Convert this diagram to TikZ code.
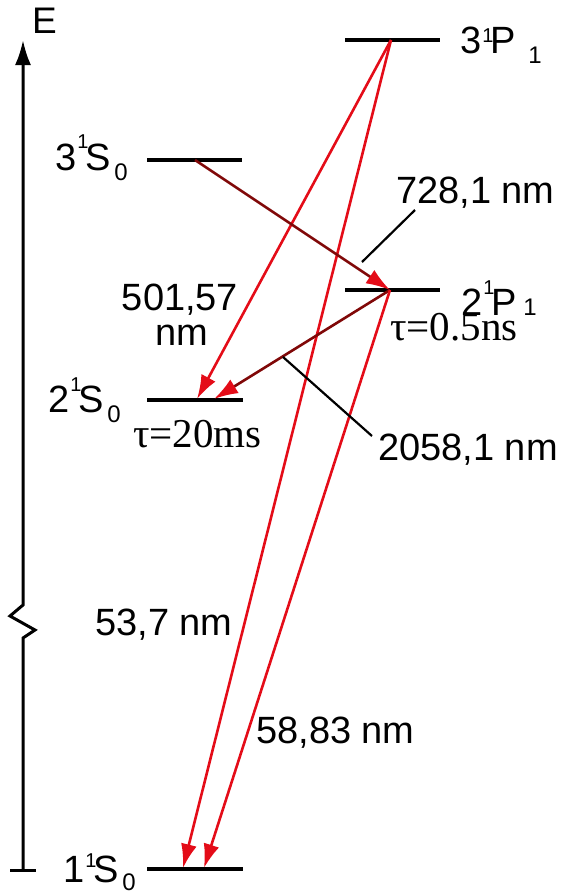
\documentclass[tikz,border=0pt]{standalone}
\usepackage{fontspec}
\setmainfont{Liberation Sans}
\newfontfamily\timesf{Liberation Serif}
\usetikzlibrary{arrows.meta}
\definecolor{myred}{RGB}{228,12,24}
\definecolor{mydark}{RGB}{128,8,8}
% #1 main digit, #2 letter, #3 subscript, #4 sup raise, #5 sub lower, #6 kern before sub
\newcommand{\lvlterm}[6]{#1\kern1pt\raisebox{#4pt}{\fontsize{20}{20}\selectfont 1}\kern-2.5pt#2\kern#6pt\raisebox{-#5pt}{\fontsize{24}{24}\selectfont #3}}
\tikzset{
  lvline/.style={line width=3.2pt},
  trans/.style={line width=2.6pt, myred, -{Latex[length=24pt,width=16pt,color=myred]}},
  transdk/.style={trans, mydark},
  lbl/.style={anchor=base west, inner sep=0pt, font=\fontsize{38}{40}\selectfont},
  lvlbl/.style={anchor=base west, inner sep=0pt, font=\fontsize{38}{40}\selectfont},
  tlbl/.style={anchor=base west, inner sep=0pt, font=\timesf\fontsize{41}{44}\selectfont},
  leader/.style={line width=2.2pt},
  axis/.style={line width=3pt}
}
\begin{document}
\begin{tikzpicture}[x=1pt,y=-1pt]
\useasboundingbox (0,0) rectangle (562,895);
% axis
\coordinate (axb) at (23,870);
\coordinate (axt) at (23,40);
\coordinate (tl) at (10,870);
\coordinate (tr) at (36,870);
\draw[axis, -{Latex[length=25pt,width=16pt]}] (axb) -- (23,638) -- (35,630) -- (10,616) -- (23,605) -- (axt);
\draw[axis] (tl) -- (tr);
\node[lbl, font=\fontsize{37}{40}\selectfont] (E) at (32,33) {E};
% levels
\coordinate (p3l) at (345,40);  \coordinate (p3r) at (440,40);
\coordinate (s3l) at (147,160); \coordinate (s3r) at (242,160);
\coordinate (p2l) at (345,290); \coordinate (p2r) at (440,290);
\coordinate (s2l) at (147,400); \coordinate (s2r) at (243,400);
\coordinate (s1l) at (147,869); \coordinate (s1r) at (243,869);
\draw[lvline] (p3l) -- (p3r);
\draw[lvline] (s3l) -- (s3r);
\draw[lvline] (p2l) -- (p2r);
\draw[lvline] (s2l) -- (s2r);
\draw[lvline] (s1l) -- (s1r);
% level labels
\node[lvlbl] (Lp3) at (460,53) {\lvlterm{3}{P}{1}{11}{10}{12}};
\node[lvlbl] (Ls3) at (55,170) {\lvlterm{3}{S}{0}{22}{10}{3}};
\node[lvlbl] (Lp2) at (461,315) {\lvlterm{2}{P}{1}{21}{0}{6}};
\node[lvlbl] (Ls2) at (48,412) {\lvlterm{2}{S}{0}{21}{10}{3}};
\node[lvlbl] (Ls1) at (63,882) {\lvlterm{1}{S}{0}{15}{8}{3}};
% transition end points
\coordinate (p3) at (391,40);
\coordinate (s3) at (195,160);
\coordinate (p2) at (390,290);
\coordinate (s2a) at (197,399);
\coordinate (s2b) at (214,399);
\coordinate (s1a) at (183,868);
\coordinate (s1b) at (204,868);
% transitions
\draw[trans] (p3) -- (s2a);
\draw[trans] (p3) -- (s1a);
\draw[transdk] (s3) -- (p2);
\draw[transdk] (p2) -- (s2b);
\draw[trans] (p2) -- (s1b);
% labels
\node[lbl] (t728) at (396,203) {728,1 nm};
\node[lbl] (t2058) at (378,460) {2058,1 nm};
\node[lbl, anchor=base] (t501) at (180,310) {501,57};
\node[lbl, anchor=base] (t501b) at (182,345) {nm};
\node[lbl] (t537) at (95,635) {53,7 nm};
\node[lbl] (t5883) at (256,743) {58,83 nm};
\node[tlbl] (tau1) at (133,447) {τ=20ms};
\node[tlbl] (tau2) at (390,340) {τ=0.5ns};
% leaders
\coordinate (l728a) at (415,210);
\coordinate (l728b) at (362,262);
\coordinate (l2058a) at (283,357);
\coordinate (l2058b) at (372,436);
\draw[leader] (l728a) -- (l728b);
\draw[leader] (l2058a) -- (l2058b);
\end{tikzpicture}
\end{document}
